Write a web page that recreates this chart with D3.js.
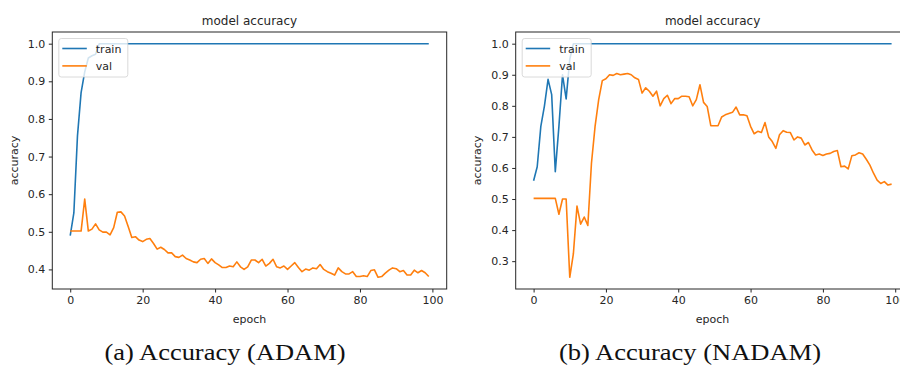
<!DOCTYPE html>
<html lang="en">
<head>
<meta charset="UTF-8">
<script src="https://d3js.org/d3.v7.min.js"></script>
<title>model accuracy</title>
<style>
  body { margin: 0; background: #fff; }
  svg { display: block; }
  .tick text { font-family: "DejaVu Sans", sans-serif; font-size: 11px; fill: #262626; }
  .tick line { stroke: #262626; }
  .lbl { font-family: "DejaVu Sans", sans-serif; fill: #262626; }
  .caption { font-family: "Liberation Serif", "DejaVu Serif", serif; font-size: 23px; fill: #111; }
</style>
</head>
<body>
<svg width="900" height="374"></svg>
<script>
const epochs = d3.range(100)  // 0..99
const xTicks = [0, 20, 40, 60, 80, 100]
const adamYTicks = [0.4, 0.5, 0.6, 0.7, 0.8, 0.9, 1.0]
const nadamYTicks = [0.3, 0.4, 0.5, 0.6, 0.7, 0.8, 0.9, 1.0]

const adamTrain = [0.49, 0.55, 0.755, 0.87, 0.925, 0.962, 0.968, 0.972, 1.0, 1.0,
  1.0, 1.0, 1.0, 1.0, 1.0, 1.0, 1.0, 1.0, 1.0, 1.0,
  1.0, 1.0, 1.0, 1.0, 1.0, 1.0, 1.0, 1.0, 1.0, 1.0,
  1.0, 1.0, 1.0, 1.0, 1.0, 1.0, 1.0, 1.0, 1.0, 1.0,
  1.0, 1.0, 1.0, 1.0, 1.0, 1.0, 1.0, 1.0, 1.0, 1.0,
  1.0, 1.0, 1.0, 1.0, 1.0, 1.0, 1.0, 1.0, 1.0, 1.0,
  1.0, 1.0, 1.0, 1.0, 1.0, 1.0, 1.0, 1.0, 1.0, 1.0,
  1.0, 1.0, 1.0, 1.0, 1.0, 1.0, 1.0, 1.0, 1.0, 1.0,
  1.0, 1.0, 1.0, 1.0, 1.0, 1.0, 1.0, 1.0, 1.0, 1.0,
  1.0, 1.0, 1.0, 1.0, 1.0, 1.0, 1.0, 1.0, 1.0, 1.0]

const adamVal = [0.502, 0.502, 0.502, 0.502, 0.587, 0.502, 0.507, 0.521, 0.505, 0.499,
  0.499, 0.492, 0.511, 0.552, 0.553, 0.542, 0.514, 0.485, 0.487, 0.478,
  0.474, 0.48, 0.482, 0.469, 0.454, 0.459, 0.453, 0.444, 0.444, 0.434,
  0.432, 0.438, 0.429, 0.425, 0.42, 0.418, 0.427, 0.429, 0.416, 0.428,
  0.418, 0.412, 0.405, 0.405, 0.409, 0.407, 0.42, 0.407, 0.4, 0.407,
  0.425, 0.425, 0.418, 0.427, 0.409, 0.416, 0.427, 0.407, 0.404, 0.409,
  0.4, 0.409, 0.418, 0.405, 0.394, 0.401, 0.398, 0.404, 0.402, 0.413,
  0.4, 0.394, 0.39, 0.385, 0.404, 0.394, 0.388, 0.388, 0.394, 0.381,
  0.381, 0.383, 0.381, 0.397, 0.399, 0.379, 0.381, 0.39, 0.398, 0.404,
  0.402, 0.394, 0.397, 0.385, 0.385, 0.398, 0.391, 0.397, 0.391, 0.381]

const nadamTrain = [0.559, 0.604, 0.734, 0.8, 0.885, 0.836, 0.588, 0.734, 0.9, 0.822,
  0.95, 1.0, 1.0, 1.0, 1.0, 1.0, 1.0, 1.0, 1.0, 1.0,
  1.0, 1.0, 1.0, 1.0, 1.0, 1.0, 1.0, 1.0, 1.0, 1.0,
  1.0, 1.0, 1.0, 1.0, 1.0, 1.0, 1.0, 1.0, 1.0, 1.0,
  1.0, 1.0, 1.0, 1.0, 1.0, 1.0, 1.0, 1.0, 1.0, 1.0,
  1.0, 1.0, 1.0, 1.0, 1.0, 1.0, 1.0, 1.0, 1.0, 1.0,
  1.0, 1.0, 1.0, 1.0, 1.0, 1.0, 1.0, 1.0, 1.0, 1.0,
  1.0, 1.0, 1.0, 1.0, 1.0, 1.0, 1.0, 1.0, 1.0, 1.0,
  1.0, 1.0, 1.0, 1.0, 1.0, 1.0, 1.0, 1.0, 1.0, 1.0,
  1.0, 1.0, 1.0, 1.0, 1.0, 1.0, 1.0, 1.0, 1.0, 1.0]

const nadamVal = [0.502, 0.502, 0.502, 0.502, 0.502, 0.502, 0.502, 0.451, 0.5, 0.5,
  0.248, 0.324, 0.477, 0.419, 0.442, 0.415, 0.615, 0.734, 0.82, 0.881,
  0.887, 0.9, 0.898, 0.904, 0.9, 0.902, 0.904, 0.9, 0.89, 0.885,
  0.841, 0.858, 0.847, 0.831, 0.847, 0.8, 0.823, 0.834, 0.807, 0.823,
  0.823, 0.831, 0.831, 0.829, 0.8, 0.82, 0.868, 0.811, 0.798, 0.736,
  0.736, 0.736, 0.764, 0.771, 0.775, 0.779, 0.796, 0.771, 0.771, 0.768,
  0.734, 0.71, 0.718, 0.714, 0.746, 0.7, 0.685, 0.663, 0.707, 0.72,
  0.715, 0.714, 0.69, 0.7, 0.696, 0.674, 0.682, 0.658, 0.642, 0.645,
  0.64, 0.645, 0.647, 0.653, 0.656, 0.604, 0.606, 0.597, 0.639, 0.642,
  0.649, 0.645, 0.628, 0.609, 0.583, 0.561, 0.55, 0.556, 0.545, 0.548]

const seriesNames = ["train", "val"]
const colors = ["#1f77b4", "#ff7f0e"]

const svg = d3.select("svg")

const drawPanel = (p) => {
  const top = 32, bottom = 289
  // matplotlib style 5% margins
  const xScale = d3.scaleLinear()
    .domain([-4.95, 103.95])
    .range([p.left, p.right])
  const all = p.train.concat(p.val)
  const lo = d3.min(all), hi = d3.max(all), pad = (hi - lo) * 0.05
  const yScale = d3.scaleLinear()
    .domain([lo - pad, hi + pad])
    .range([bottom, top])

  const g = svg.append("g")

  const line = d3.line()
    .x((d, i) => xScale(epochs[i]))
    .y(d => yScale(d))

  const clipId = "clip" + p.id
  g.append("clipPath").attr("id", clipId)
    .append("rect")
    .attr("x", p.left).attr("y", top)
    .attr("width", p.right - p.left).attr("height", bottom - top)

  const series = [p.train, p.val]
  series.forEach((s, k) => {
    g.append("path")
      .datum(s)
      .attr("clip-path", `url(#${clipId})`)
      .attr("fill", "none")
      .attr("stroke", colors[k])
      .attr("stroke-width", 1.6)
      .attr("stroke-linejoin", "round")
      .attr("d", line)
  })

  // axes
  const xAxis = g.append("g")
    .attr("transform", `translate(0,${bottom})`)
    .call(d3.axisBottom(xScale).tickValues(xTicks).tickSize(3.5).tickPadding(3.5))
  const yAxis = g.append("g")
    .attr("transform", `translate(${p.left},0)`)
    .call(d3.axisLeft(yScale).tickValues(p.yTicks).tickFormat(d3.format(".1f")).tickSize(3.5).tickPadding(3.5))
  xAxis.select(".domain").remove()
  yAxis.select(".domain").remove()
  xAxis.selectAll(".tick text").attr("dy", "0.72em")

  // frame
  g.append("rect")
    .attr("x", p.left).attr("y", top)
    .attr("width", p.right - p.left).attr("height", bottom - top)
    .attr("fill", "none")
    .attr("stroke", "#262626")
    .attr("stroke-width", 1)

  const cx = (p.left + p.right) / 2
  g.append("text").attr("class", "lbl")
    .attr("x", cx).attr("y", 25)
    .attr("text-anchor", "middle")
    .style("font-size", "12px")
    .text("model accuracy")
  g.append("text").attr("class", "lbl")
    .attr("x", cx).attr("y", 323)
    .attr("text-anchor", "middle")
    .style("font-size", "11px")
    .text("epoch")
  g.append("text").attr("class", "lbl")
    .attr("transform", `translate(${p.ylabelX},${(top + bottom) / 2}) rotate(-90)`)
    .attr("text-anchor", "middle")
    .attr("dy", "0.35em")
    .style("font-size", "11px")
    .text("accuracy")

  // legend
  const lx = p.left + 6.5, ly = 38.5
  const lg = g.append("g")
  lg.append("rect")
    .attr("x", lx).attr("y", ly)
    .attr("width", 69).attr("height", 38.5)
    .attr("rx", 2.5)
    .attr("fill", "#fff").attr("fill-opacity", 0.8)
    .attr("stroke", "#d0d0d0").attr("stroke-width", 0.8)
  seriesNames.forEach((name, k) => {
    const yy = ly + 10 + k * 17.4
    lg.append("line")
      .attr("x1", lx + 3.5).attr("x2", lx + 28)
      .attr("y1", yy).attr("y2", yy)
      .attr("stroke", colors[k]).attr("stroke-width", 1.6)
    lg.append("text").attr("class", "lbl")
      .attr("x", lx + 37).attr("y", yy + 4)
      .style("font-size", "11px")
      .text(name)
  })

  svg.append("text").attr("class", "caption")
    .attr("x", p.capX).attr("y", 360)
    .attr("textLength", p.capW)
    .attr("lengthAdjust", "spacingAndGlyphs")
    .text(p.caption)
}

drawPanel({ id: "a", left: 52.3, right: 446.7, train: adamTrain, val: adamVal,
  yTicks: adamYTicks, ylabelX: 14, caption: "(a) Accuracy (ADAM)", capX: 104.5, capW: 241 })
drawPanel({ id: "b", left: 515.7, right: 909.5, train: nadamTrain, val: nadamVal,
  yTicks: nadamYTicks, ylabelX: 477.3, caption: "(b) Accuracy (NADAM)", capX: 559, capW: 262 })
</script>
</body>
</html>
